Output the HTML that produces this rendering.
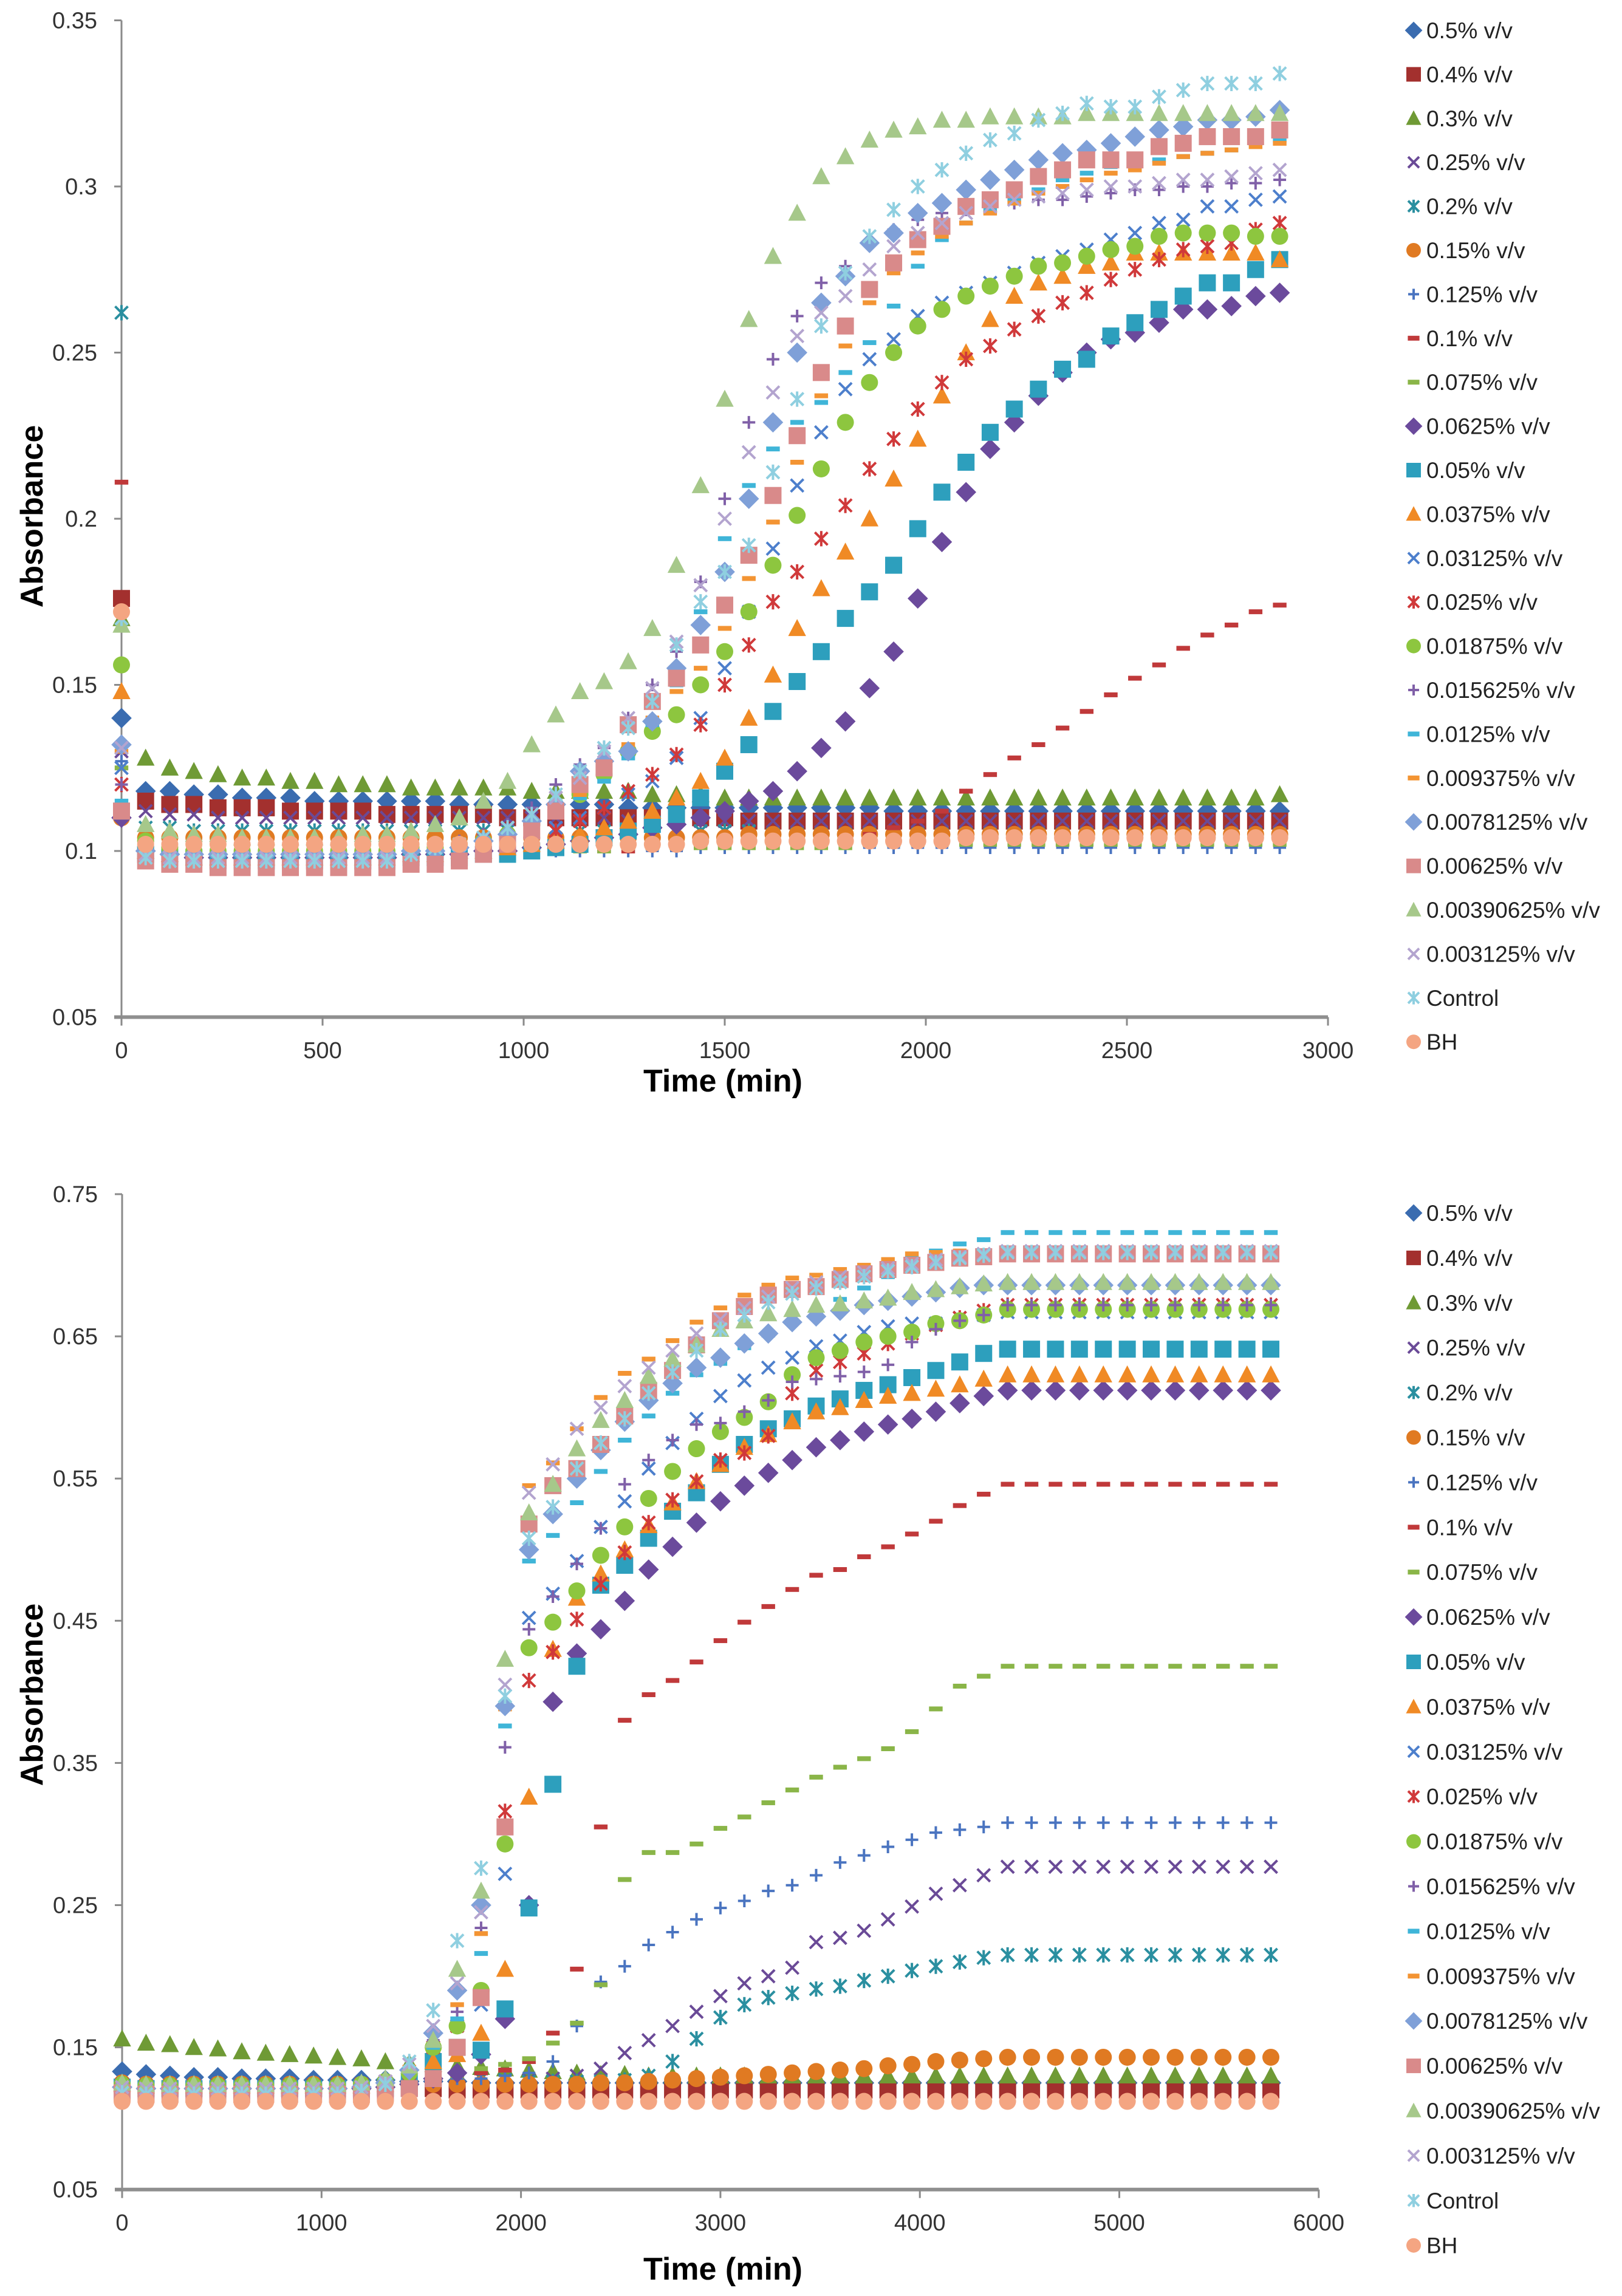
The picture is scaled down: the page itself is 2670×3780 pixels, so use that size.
<!DOCTYPE html>
<html><head><meta charset="utf-8"><title>Absorbance vs Time</title>
<style>
html,body{margin:0;padding:0;background:#fff;}
svg{display:block;font-family:"Liberation Sans",sans-serif;}
</style></head>
<body>
<svg id="chart" width="2670" height="3780" viewBox="0 0 2670 3780" xmlns="http://www.w3.org/2000/svg">
<rect x="0" y="0" width="2670" height="3780" fill="#fff"/>
<g id="top"></g>
<g id="bot"></g>
</svg>
<script>
var topTimes=[0,60,120,180,240,300,360,420,480,540,600,660,720,780,840,900,960,1020,1080,1140,1200,1260,1320,1380,1440,1500,1560,1620,1680,1740,1800,1860,1920,1980,2040,2100,2160,2220,2280,2340,2400,2460,2520,2580,2640,2700,2760,2820,2880];
var botTimes=[0,120,240,360,480,600,720,840,960,1080,1200,1320,1440,1560,1680,1800,1920,2040,2160,2280,2400,2520,2640,2760,2880,3000,3120,3240,3360,3480,3600,3720,3840,3960,4080,4200,4320,4440,4560,4680,4800,4920,5040,5160,5280,5400,5520,5640,5760];
var seriesNames=["0.5% v/v","0.4% v/v","0.3% v/v","0.25% v/v","0.2% v/v","0.15% v/v","0.125% v/v","0.1% v/v","0.075% v/v","0.0625% v/v","0.05% v/v","0.0375% v/v","0.03125% v/v","0.025% v/v","0.01875% v/v","0.015625% v/v","0.0125% v/v","0.009375% v/v","0.0078125% v/v","0.00625% v/v","0.00390625% v/v","0.003125% v/v","Control","BH"];
var topYTicks=[0.05,0.1,0.15,0.2,0.25,0.3,0.35];
var topYLabels=["0.05","0.1","0.15","0.2","0.25","0.3","0.35"];
var topXTicks=[0,500,1000,1500,2000,2500,3000];
var botYTicks=[0.05,0.15,0.25,0.35,0.45,0.55,0.65,0.75];
var botYLabels=["0.05","0.15","0.25","0.35","0.45","0.55","0.65","0.75"];
var botXTicks=[0,1000,2000,3000,4000,5000,6000];

/* ---- TOP PANEL VALUES ---- */
var T0=[.140,.118,.118,.117,.117,.116,.116,.116,.115,.115,.115,.115,.115,.115,.114,.114,.114,.114,.114,.114,.114,.113,.113,.113,.113,.113,.113,.113,.113,.113,.113,.113,.112,.112,.112,.112,.112,.112,.112,.112,.112,.112,.112,.112,.112,.112,.112,.112,.112];
var T1=[.176,.115,.114,.114,.113,.113,.113,.112,.112,.112,.112,.111,.111,.111,.111,.111,.110,.110,.110,.110,.110,.110,.110,.110,.110,.110,.109,.109,.109,.109,.109,.109,.109,.109,.109,.109,.109,.109,.109,.109,.109,.109,.109,.109,.109,.109,.109,.109,.109];
var T2=[.170,.128,.125,.124,.123,.122,.122,.121,.121,.120,.120,.120,.119,.119,.119,.119,.119,.118,.118,.118,.118,.118,.117,.117,.117,.116,.116,.116,.116,.116,.116,.116,.116,.116,.116,.116,.116,.116,.116,.116,.116,.116,.116,.116,.116,.116,.116,.116,.117];
var T3=[.130,.112,.111,.111,.110,.110,.110,.110,.110,.110,.110,.110,.110,.110,.110,.110,.110,.110,.110,.110,.110,.109,.109,.109,.109,.109,.109,.109,.109,.109,.109,.109,.109,.109,.109,.109,.109,.109,.109,.109,.109,.109,.109,.109,.109,.109,.109,.109,.109];
var T4=[.262,.107,.107,.106,.106,.106,.106,.106,.106,.106,.106,.106,.106,.106,.106,.106,.106,.106,.106,.106,.106,.106,.106,.106,.106,.106,.106,.105,.105,.105,.105,.105,.105,.105,.105,.105,.105,.105,.105,.105,.105,.105,.105,.105,.105,.105,.105,.105,.105];
var T5=[.110,.104,.104,.104,.104,.104,.104,.104,.104,.104,.104,.104,.104,.104,.104,.104,.104,.104,.104,.104,.104,.104,.104,.104,.104,.104,.105,.105,.105,.105,.105,.105,.105,.105,.105,.105,.105,.105,.105,.105,.105,.105,.105,.105,.105,.105,.105,.105,.105];
var T6=[.127,.101,.100,.100,.100,.100,.100,.100,.100,.100,.100,.100,.100,.100,.100,.100,.100,.100,.100,.100,.100,.100,.100,.100,.101,.101,.101,.101,.101,.101,.101,.101,.101,.101,.101,.101,.101,.101,.101,.101,.101,.101,.101,.101,.101,.101,.101,.101,.101];
var T7=[.211,.100,.100,.100,.100,.100,.100,.100,.100,.100,.100,.100,.100,.100,.100,.100,.100,.100,.100,.100,.100,.100,.101,.101,.101,.102,.102,.102,.103,.104,.104,.105,.107,.109,.112,.118,.123,.128,.132,.137,.142,.147,.152,.156,.161,.165,.168,.172,.174];
var T8=[.125,.100,.100,.100,.100,.100,.100,.100,.100,.100,.100,.100,.100,.100,.100,.100,.100,.100,.100,.100,.100,.101,.101,.101,.101,.101,.101,.101,.101,.101,.101,.102,.102,.102,.102,.102,.102,.102,.102,.102,.102,.102,.102,.102,.102,.102,.102,.102,.102];
var T9=[.110,.100,.099,.098,.098,.098,.098,.098,.098,.098,.098,.098,.099,.099,.099,.100,.100,.101,.102,.103,.104,.105,.107,.108,.110,.112,.115,.118,.124,.131,.139,.149,.160,.176,.193,.208,.221,.229,.237,.244,.250,.254,.256,.259,.263,.263,.264,.267,.268];
var T10=[.112,.099,.098,.098,.097,.097,.097,.097,.097,.097,.097,.097,.098,.098,.098,.099,.099,.100,.101,.102,.104,.106,.108,.111,.116,.124,.132,.142,.151,.160,.170,.178,.186,.197,.208,.217,.226,.233,.239,.245,.248,.255,.259,.263,.267,.271,.271,.275,.278];
var T11=[.148,.100,.099,.098,.098,.098,.098,.098,.098,.098,.098,.098,.099,.099,.100,.100,.101,.102,.103,.105,.107,.109,.112,.116,.121,.128,.140,.153,.167,.179,.190,.200,.212,.224,.237,.250,.260,.267,.271,.273,.276,.277,.280,.280,.280,.280,.280,.280,.278];
var T12=[.125,.100,.099,.099,.099,.099,.099,.099,.099,.099,.099,.099,.100,.100,.101,.102,.103,.105,.107,.110,.113,.117,.121,.128,.140,.155,.172,.191,.210,.226,.239,.248,.254,.261,.265,.268,.271,.274,.277,.279,.281,.284,.286,.289,.290,.294,.294,.296,.297];
var T13=[.120,.100,.099,.099,.099,.099,.099,.099,.099,.099,.099,.099,.100,.100,.100,.101,.102,.104,.106,.109,.113,.118,.123,.129,.138,.150,.162,.175,.184,.194,.204,.215,.224,.233,.241,.248,.252,.257,.261,.265,.268,.272,.275,.278,.281,.282,.283,.287,.289];
var T14=[.156,.103,.101,.100,.100,.100,.100,.100,.100,.100,.100,.100,.101,.101,.102,.103,.105,.108,.112,.117,.123,.130,.136,.141,.150,.160,.172,.186,.201,.215,.229,.241,.250,.258,.263,.267,.270,.273,.276,.277,.279,.281,.282,.285,.286,.286,.286,.285,.285];
var T15=[.120,.100,.100,.100,.100,.100,.100,.100,.100,.100,.100,.100,.101,.102,.103,.105,.108,.113,.120,.126,.131,.140,.150,.160,.181,.206,.229,.248,.261,.271,.276,.283,.287,.290,.292,.293,.294,.295,.296,.296,.297,.298,.299,.299,.300,.300,.301,.301,.302];
var T16=[.115,.100,.099,.099,.099,.099,.099,.099,.099,.099,.099,.099,.100,.100,.101,.102,.104,.107,.111,.116,.121,.128,.138,.150,.172,.194,.210,.221,.229,.235,.244,.253,.264,.276,.284,.289,.293,.296,.299,.302,.304,.306,.307,.308,.309,.310,.311,.313,.314];
var T17=[.130,.100,.099,.099,.099,.099,.099,.099,.099,.099,.099,.099,.100,.100,.101,.102,.104,.107,.111,.117,.124,.132,.140,.148,.155,.167,.182,.199,.217,.237,.252,.265,.274,.280,.285,.289,.292,.295,.298,.300,.302,.304,.305,.307,.309,.310,.311,.312,.313];
var T18=[.132,.100,.099,.099,.099,.099,.099,.099,.099,.099,.099,.099,.100,.100,.101,.103,.105,.109,.114,.124,.127,.130,.139,.155,.168,.184,.206,.229,.250,.265,.273,.283,.286,.292,.295,.299,.302,.305,.308,.310,.311,.313,.315,.317,.318,.320,.320,.321,.323];
var T19=[.112,.097,.096,.096,.095,.095,.095,.095,.095,.095,.095,.095,.096,.096,.097,.099,.102,.106,.112,.120,.125,.138,.145,.152,.162,.174,.189,.207,.225,.244,.258,.269,.277,.284,.288,.294,.296,.299,.303,.305,.308,.308,.308,.312,.313,.315,.315,.315,.317];
var T20=[.168,.108,.106,.105,.105,.104,.104,.104,.104,.104,.105,.105,.106,.108,.110,.115,.121,.132,.141,.148,.151,.157,.167,.186,.210,.236,.260,.279,.292,.303,.309,.314,.317,.318,.320,.320,.321,.321,.321,.321,.322,.322,.322,.322,.322,.322,.322,.322,.322];
var T21=[.131,.099,.098,.098,.098,.098,.098,.098,.098,.098,.098,.098,.100,.101,.102,.104,.107,.111,.116,.122,.130,.140,.149,.163,.180,.200,.220,.238,.255,.262,.267,.275,.282,.286,.289,.292,.294,.296,.297,.298,.299,.300,.300,.301,.302,.302,.303,.304,.305];
var T22=[.170,.098,.097,.097,.097,.097,.097,.097,.097,.097,.097,.097,.099,.101,.102,.104,.107,.111,.117,.124,.131,.137,.145,.162,.175,.184,.192,.214,.236,.258,.274,.285,.293,.300,.305,.310,.314,.316,.320,.322,.325,.324,.324,.327,.329,.331,.331,.331,.334];
var T23=[.172,.102,.102,.102,.102,.102,.102,.102,.102,.102,.102,.102,.102,.102,.102,.102,.102,.102,.102,.102,.102,.102,.102,.102,.103,.103,.103,.103,.103,.103,.103,.103,.103,.103,.103,.104,.104,.104,.104,.104,.104,.104,.104,.104,.104,.104,.104,.104,.104];

/* ---- BOTTOM PANEL VALUES ---- */
var B0=[.133,.131,.130,.129,.129,.128,.128,.128,.127,.127,.127,.127,.126,.126,.126,.125,.125,.125,.125,.125,.125,.125,.125,.125,.125,.125,.125,.125,.125,.125,.125,.125,.125,.125,.125,.125,.125,.125,.125,.125,.125,.125,.125,.125,.125,.125,.125,.125,.125];
var B1=[.122,.121,.121,.121,.121,.121,.121,.121,.121,.121,.121,.121,.121,.121,.120,.120,.120,.120,.120,.120,.120,.120,.120,.120,.120,.120,.120,.120,.120,.120,.120,.120,.120,.120,.120,.120,.120,.120,.120,.120,.120,.120,.120,.120,.120,.120,.120,.120,.120];
var B2=[.156,.153,.152,.150,.149,.147,.146,.145,.144,.143,.142,.140,.139,.138,.137,.136,.135,.134,.133,.132,.131,.131,.130,.130,.130,.130,.130,.130,.130,.130,.130,.130,.130,.130,.130,.130,.130,.130,.130,.130,.130,.130,.130,.130,.130,.130,.130,.130,.130];
var B3=[.122,.122,.121,.121,.121,.121,.121,.121,.121,.121,.121,.122,.124,.127,.128,.128,.127,.127,.128,.130,.135,.146,.155,.165,.175,.186,.195,.200,.206,.224,.227,.232,.240,.249,.258,.264,.271,.277,.277,.277,.277,.277,.277,.277,.277,.277,.277,.277,.277];
var B4=[.122,.121,.121,.120,.120,.120,.120,.120,.120,.120,.120,.121,.123,.126,.128,.128,.127,.126,.126,.126,.126,.127,.130,.140,.156,.171,.180,.185,.188,.191,.193,.197,.200,.204,.207,.210,.213,.215,.215,.215,.215,.215,.215,.215,.215,.215,.215,.215,.215];
var B5=[.125,.124,.124,.124,.124,.124,.124,.124,.124,.124,.124,.124,.124,.124,.124,.124,.124,.124,.124,.124,.125,.125,.126,.127,.128,.129,.130,.131,.132,.133,.134,.135,.137,.138,.140,.141,.142,.143,.143,.143,.143,.143,.143,.143,.143,.143,.143,.143,.143];
var B6=[.124,.123,.123,.123,.123,.123,.123,.123,.123,.123,.123,.124,.125,.127,.128,.128,.130,.132,.140,.165,.196,.207,.222,.231,.240,.248,.253,.260,.264,.271,.280,.285,.291,.296,.301,.303,.305,.308,.308,.308,.308,.308,.308,.308,.308,.308,.308,.308,.308];
var B7=[.124,.123,.123,.123,.123,.123,.123,.123,.123,.123,.124,.124,.126,.128,.130,.132,.134,.140,.160,.205,.305,.380,.398,.408,.421,.436,.449,.460,.472,.482,.486,.495,.502,.511,.520,.531,.539,.546,.546,.546,.546,.546,.546,.546,.546,.546,.546,.546,.546];
var B8=[.124,.123,.123,.123,.123,.123,.123,.123,.123,.123,.124,.124,.126,.128,.130,.135,.138,.142,.153,.167,.194,.268,.287,.287,.293,.304,.312,.322,.331,.340,.347,.353,.360,.372,.388,.404,.411,.418,.418,.418,.418,.418,.418,.418,.418,.418,.418,.418,.418];
var B9=[.122,.121,.121,.121,.121,.121,.121,.121,.121,.121,.121,.122,.124,.128,.132,.145,.170,.250,.393,.427,.444,.464,.486,.502,.519,.534,.545,.554,.563,.572,.577,.583,.588,.592,.597,.603,.608,.612,.612,.612,.612,.612,.612,.612,.612,.612,.612,.612,.612];
var B10=[.122,.121,.121,.121,.121,.121,.121,.121,.121,.121,.121,.122,.126,.140,.150,.148,.177,.248,.335,.418,.475,.489,.508,.527,.540,.560,.574,.585,.592,.601,.606,.612,.616,.621,.626,.632,.638,.641,.641,.641,.641,.641,.641,.641,.641,.641,.641,.641,.641];
var B11=[.124,.123,.123,.123,.123,.123,.123,.123,.123,.123,.123,.124,.128,.140,.145,.160,.205,.326,.430,.466,.483,.500,.517,.533,.548,.560,.572,.581,.590,.597,.600,.605,.608,.610,.613,.616,.620,.623,.623,.623,.623,.623,.623,.623,.623,.623,.623,.623,.623];
var B12=[.124,.123,.123,.123,.123,.123,.123,.123,.123,.123,.124,.126,.132,.150,.165,.180,.272,.452,.469,.492,.516,.534,.557,.575,.592,.608,.619,.628,.635,.643,.647,.653,.657,.659,.659,.663,.665,.667,.667,.667,.667,.667,.667,.667,.667,.667,.667,.667,.667];
var B13=[.124,.123,.123,.123,.123,.123,.123,.123,.123,.123,.124,.126,.132,.150,.165,.185,.316,.408,.428,.451,.476,.498,.519,.535,.548,.563,.568,.580,.610,.626,.632,.638,.645,.652,.658,.663,.668,.672,.672,.672,.672,.672,.672,.672,.672,.672,.672,.672,.672];
var B14=[.124,.123,.123,.123,.123,.123,.123,.123,.123,.123,.124,.126,.132,.150,.165,.190,.293,.431,.449,.471,.496,.516,.536,.555,.571,.583,.593,.604,.623,.635,.640,.646,.650,.653,.659,.661,.665,.669,.669,.669,.669,.669,.669,.669,.669,.669,.669,.669,.669];
var B15=[.124,.123,.123,.123,.123,.123,.123,.123,.123,.123,.124,.127,.135,.155,.175,.234,.361,.444,.467,.490,.515,.546,.563,.577,.588,.589,.597,.605,.618,.620,.622,.625,.630,.646,.655,.661,.665,.672,.672,.672,.672,.672,.672,.672,.672,.672,.672,.672,.672];
var B16=[.124,.123,.123,.123,.123,.123,.123,.123,.123,.123,.124,.127,.135,.150,.170,.216,.376,.492,.510,.533,.555,.577,.594,.610,.623,.631,.642,.651,.660,.668,.676,.684,.692,.705,.710,.715,.718,.723,.723,.723,.723,.723,.723,.723,.723,.723,.723,.723,.723];
var B17=[.124,.123,.123,.123,.123,.123,.123,.123,.123,.123,.124,.127,.136,.160,.180,.230,.388,.545,.561,.585,.607,.624,.634,.647,.660,.670,.679,.686,.691,.693,.697,.700,.704,.708,.709,.710,.710,.710,.710,.710,.710,.710,.710,.710,.710,.710,.710,.710,.710];
var B18=[.122,.121,.121,.121,.121,.121,.121,.121,.121,.121,.122,.125,.134,.160,.190,.250,.390,.500,.525,.550,.570,.590,.605,.617,.628,.635,.645,.652,.660,.664,.668,.672,.675,.678,.681,.684,.686,.686,.686,.686,.686,.686,.686,.686,.686,.686,.686,.686,.686];
var B19=[.118,.117,.117,.117,.117,.117,.117,.117,.117,.117,.117,.118,.121,.128,.150,.185,.305,.518,.545,.557,.574,.594,.612,.626,.644,.661,.671,.679,.683,.685,.690,.694,.697,.700,.702,.705,.706,.708,.708,.708,.708,.708,.708,.708,.708,.708,.708,.708,.708];
var B20=[.125,.124,.124,.124,.124,.124,.124,.124,.124,.124,.125,.128,.137,.155,.205,.260,.423,.526,.546,.571,.591,.605,.622,.634,.644,.655,.661,.666,.669,.672,.673,.675,.677,.681,.683,.685,.687,.688,.688,.688,.688,.688,.688,.688,.688,.688,.688,.688,.688];
var B21=[.122,.121,.121,.121,.121,.121,.121,.121,.121,.121,.122,.126,.138,.165,.195,.245,.405,.540,.560,.585,.600,.615,.628,.640,.652,.662,.670,.678,.684,.688,.692,.695,.698,.701,.704,.706,.708,.710,.710,.710,.710,.710,.710,.710,.710,.710,.710,.710,.710];
var B22=[.118,.117,.117,.117,.117,.117,.117,.117,.117,.117,.119,.124,.140,.176,.225,.276,.397,.508,.530,.557,.575,.592,.610,.625,.640,.655,.665,.674,.680,.684,.688,.692,.696,.699,.702,.705,.707,.709,.709,.709,.709,.709,.709,.709,.709,.709,.709,.709,.709];
var B23=[.112,.112,.112,.112,.112,.112,.112,.112,.112,.112,.112,.112,.112,.112,.112,.112,.112,.112,.112,.112,.112,.112,.112,.112,.112,.112,.112,.112,.112,.112,.112,.112,.112,.112,.112,.112,.112,.112,.112,.112,.112,.112,.112,.112,.112,.112,.112,.112,.112];

var topValues=[T0,T1,T2,T3,T4,T5,T6,T7,T8,T9,T10,T11,T12,T13,T14,T15,T16,T17,T18,T19,T20,T21,T22,T23];
var botValues=[B0,B1,B2,B3,B4,B5,B6,B7,B8,B9,B10,B11,B12,B13,B14,B15,B16,B17,B18,B19,B20,B21,B22,B23];

var NS="http://www.w3.org/2000/svg";
var styles=[
 ["diamond","#3a6cb0"],["square","#a3302e"],["triangle","#6f9a35"],["x","#6a4a97"],
 ["star","#2a8fa0"],["circle","#e07a22"],["plus","#4a74c0"],["dash","#c0393a"],
 ["dash","#8ab548"],["diamond","#6b4a9c"],["square","#2d9fbd"],["triangle","#f08a25"],
 ["x","#4d7fcc"],["star","#d0393a"],["circle","#8dc63f"],["plus","#8060a8"],
 ["dash","#3fb5d8"],["dash","#f39433"],["diamond","#7fa0d8"],["square","#d98a8a"],
 ["triangle","#a6c88a"],["x","#b3a4cf"],["star","#8fcfe0"],["circle","#f4a582"]];

function mk(tag,attrs,parent){var e=document.createElementNS(NS,tag);for(var k in attrs)e.setAttribute(k,attrs[k]);parent.appendChild(e);return e;}

function marker(g,type,c,x,y,s){
  var e;
  if(type==="diamond"){e=mk("polygon",{points:(x)+","+(y-s*1.2)+" "+(x+s*1.2)+","+y+" "+x+","+(y+s*1.2)+" "+(x-s*1.2)+","+y,fill:c},g);}
  else if(type==="square"){e=mk("rect",{x:x-s,y:y-s,width:2*s,height:2*s,fill:c},g);}
  else if(type==="triangle"){e=mk("polygon",{points:x+","+(y-s*1.1)+" "+(x+s*1.05)+","+(y+s*0.9)+" "+(x-s*1.05)+","+(y+s*0.9),fill:c},g);}
  else if(type==="circle"){e=mk("circle",{cx:x,cy:y,r:s,fill:c},g);}
  else if(type==="dash"){e=mk("rect",{x:x-s*0.8,y:y-4,width:s*1.6,height:8,fill:c},g);}
  else {
    e=mk("g",{stroke:c,"stroke-width":4,fill:"none"},g);
    var d=s*0.75;
    if(type==="x"||type==="star"){mk("line",{x1:x-d,y1:y-d,x2:x+d,y2:y+d},e);mk("line",{x1:x-d,y1:y+d,x2:x+d,y2:y-d},e);}
    if(type==="star"){mk("line",{x1:x,y1:y-d*1.2,x2:x,y2:y+d*1.2},e);}
    if(type==="plus"){mk("line",{x1:x-d,y1:y,x2:x+d,y2:y},e);mk("line",{x1:x,y1:y-d,x2:x,y2:y+d},e);}
  }
  return e;
}

function buildPanel(root,cfg){
  var X=function(t){return cfg.x0+(t-cfg.tmin)*cfg.xs;};
  var Y=function(v){return cfg.y0+(cfg.vmax-v)*cfg.ys;};
  var axes=mk("g",{},root);
  
  
  var yl=mk("line",{x1:cfg.x0,y1:Y(cfg.yTicks[cfg.yTicks.length-1]),x2:cfg.x0,y2:Y(cfg.yTicks[0]),stroke:"#8a8a8a","stroke-width":3},axes);
  
  
  var xl=mk("line",{x1:cfg.x0-12,y1:Y(cfg.yTicks[0]),x2:X(cfg.xTicks[cfg.xTicks.length-1]),y2:Y(cfg.yTicks[0]),stroke:"#8f8f8f","stroke-width":6},axes);
  
  
  for(var i=0;i<cfg.yTicks.length;i++){
    var yy=Y(cfg.yTicks[i]);
    var tk=mk("line",{x1:cfg.x0-12,y1:yy,x2:cfg.x0,y2:yy,stroke:"#8a8a8a","stroke-width":3},axes);
    
    
    var tl=mk("text",{x:cfg.x0-40,y:yy+13,"text-anchor":"end","font-size":38,fill:"#333"},axes);
    tl.textContent=cfg.yLabels[i];
    
    
  }
  for(var j=0;j<cfg.xTicks.length;j++){
    var xx=X(cfg.xTicks[j]);
    var xt=mk("line",{x1:xx,y1:Y(cfg.yTicks[0]),x2:xx,y2:Y(cfg.yTicks[0])+14,stroke:"#8a8a8a","stroke-width":3},axes);
    
    
    var xtl=mk("text",{x:xx,y:cfg.xLabelY,"text-anchor":"middle","font-size":38,fill:"#333"},axes);
    xtl.textContent=String(cfg.xTicks[j]);
    
    
  }
  var xt2=mk("text",{x:1190,y:cfg.xTitleY,"text-anchor":"middle","font-size":52,"font-weight":"bold",fill:"#000"},root);
  xt2.textContent="Time (min)";
  
  
  var yt=mk("text",{x:0,y:0,"text-anchor":"middle","font-size":52,"font-weight":"bold",fill:"#000",transform:"translate(70,"+cfg.yTitleY+") rotate(-90)"},root);
  yt.textContent="Absorbance";
  
  

  for(var s=0;s<cfg.values.length;s++){
    var sg=mk("g",{},root);
    
    
    var vals=cfg.values[s];
    for(var k=0;k<vals.length;k++){
      var m=marker(sg,styles[s][0],styles[s][1],X(cfg.times[k]),Y(vals[k]),14);
      
      
    }
  }
  var lg=mk("g",{},root);
  
  
  for(var q=0;q<seriesNames.length;q++){
    var ly=cfg.legY0+q*cfg.legDy;
    var eg=mk("g",{},lg);
    
    
    marker(eg,styles[q][0],styles[q][1],2327,ly,12);
    var lt=mk("text",{x:2348,y:ly+13,"font-size":37,fill:"#222"},eg);
    lt.textContent=seriesNames[q];
  }
}

buildPanel(document.getElementById("top"),{x0:200,tmin:0,xs:0.662,y0:33.5,vmax:0.35,ys:5470,
  yTicks:topYTicks,yLabels:topYLabels,xTicks:topXTicks,xLabelY:1742,xTitleY:1797,yTitleY:850,
  times:topTimes,values:topValues,legY0:50,legDy:72.4});
buildPanel(document.getElementById("bot"),{x0:201,tmin:0,xs:0.3283,y0:1966,vmax:0.75,ys:2341,
  yTicks:botYTicks,yLabels:botYLabels,xTicks:botXTicks,xLabelY:3672,xTitleY:3753,yTitleY:2790,
  times:botTimes,values:botValues,legY0:1997,legDy:73.9});
</script>
</body></html>
